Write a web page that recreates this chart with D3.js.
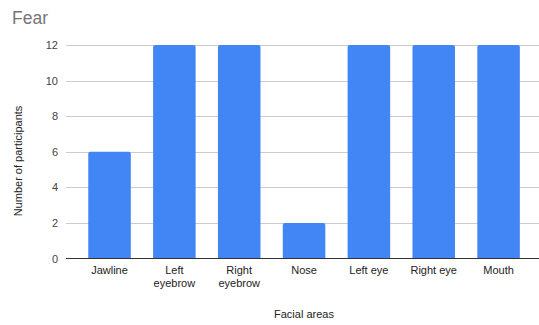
<!DOCTYPE html>
<html>
<head>
<meta charset="utf-8">
<script src="https://cdn.jsdelivr.net/npm/d3@7"></script>
<style>
  html, body { margin: 0; padding: 0; background: #fff; }
  svg { display: block; font-family: Arial, "Liberation Sans", sans-serif; }
</style>
</head>
<body>
<svg id="chart" width="539" height="325"></svg>
<script>
// Participants who marked each facial area for the "Fear" expression
const categories = ["Jawline", "Left\neyebrow", "Right\neyebrow", "Nose", "Left eye", "Right eye", "Mouth"];
const values = [6, 12, 12, 2, 12, 12, 12];
const yTicks = [0, 2, 4, 6, 8, 10, 12];

const svg = d3.select("#chart");
const W = 539, H = 325;
const plot = { left: 66, right: 539, top: 45, bottom: 258.5 };

const x = d3.scaleBand()
  .domain(categories)
  .range([77.1, 531])
  .paddingInner(0.344)
  .paddingOuter(0.172);

const y = d3.scaleLinear()
  .domain([0, 12])
  .range([plot.bottom, plot.top]);

// Title
svg.append("text")
  .attr("x", 12).attr("y", 24)
  .attr("font-size", 17.5)
  .attr("fill", "#757575")
  .text("Fear");

// Horizontal gridlines
svg.append("g")
  .selectAll("line")
  .data(yTicks.filter(t => t !== 0))
  .join("line")
  .attr("x1", plot.left).attr("x2", plot.right)
  .attr("y1", d => Math.round(y(d)) + 0.5).attr("y2", d => Math.round(y(d)) + 0.5)
  .attr("stroke", "#cccccc").attr("stroke-width", 1);

// Y axis tick labels
const yAxis = svg.append("g")
  .attr("transform", `translate(${plot.left},0)`)
  .call(d3.axisLeft(y).tickValues(yTicks).tickSize(0).tickPadding(8));
yAxis.select(".domain").remove();
yAxis.selectAll("text")
  .attr("font-size", 11)
  .attr("fill", "#444")
  .attr("font-family", "Arial, 'Liberation Sans', sans-serif");

// Bars with slightly rounded top corners
const r = 2;
svg.append("g")
  .selectAll("path")
  .data(categories.map((c, i) => ({ c, v: values[i] })))
  .join("path")
  .attr("fill", "#4285f4")
  .attr("d", d => {
    const x0 = x(d.c), x1 = x0 + x.bandwidth();
    const yt = y(d.v), yb = y(0);
    return `M${x0},${yb}V${yt + r}Q${x0},${yt} ${x0 + r},${yt}H${x1 - r}Q${x1},${yt} ${x1},${yt + r}V${yb}Z`;
  });

// Baseline
svg.append("line")
  .attr("x1", plot.left).attr("x2", plot.right)
  .attr("y1", plot.bottom).attr("y2", plot.bottom)
  .attr("stroke", "#333").attr("stroke-width", 1);

// X axis category labels (multi-line)
const xl = svg.append("g");
categories.forEach(c => {
  const lines = c.split("\n");
  const t = xl.append("text")
    .attr("x", x(c) + x.bandwidth() / 2)
    .attr("y", 274)
    .attr("text-anchor", "middle")
    .attr("font-size", 11)
    .attr("fill", "#222");
  lines.forEach((ln, i) => {
    t.append("tspan")
      .attr("x", x(c) + x.bandwidth() / 2)
      .attr("dy", i === 0 ? 0 : 13)
      .text(ln);
  });
});

// Axis titles
svg.append("text")
  .attr("x", 304).attr("y", 318)
  .attr("text-anchor", "middle")
  .attr("font-size", 11)
  .attr("fill", "#222")
  .text("Facial areas");

svg.append("text")
  .attr("transform", "translate(22,161) rotate(-90)")
  .attr("text-anchor", "middle")
  .attr("font-size", 11)
  .attr("fill", "#222")
  .text("Number of participants");
</script>
</body>
</html>
